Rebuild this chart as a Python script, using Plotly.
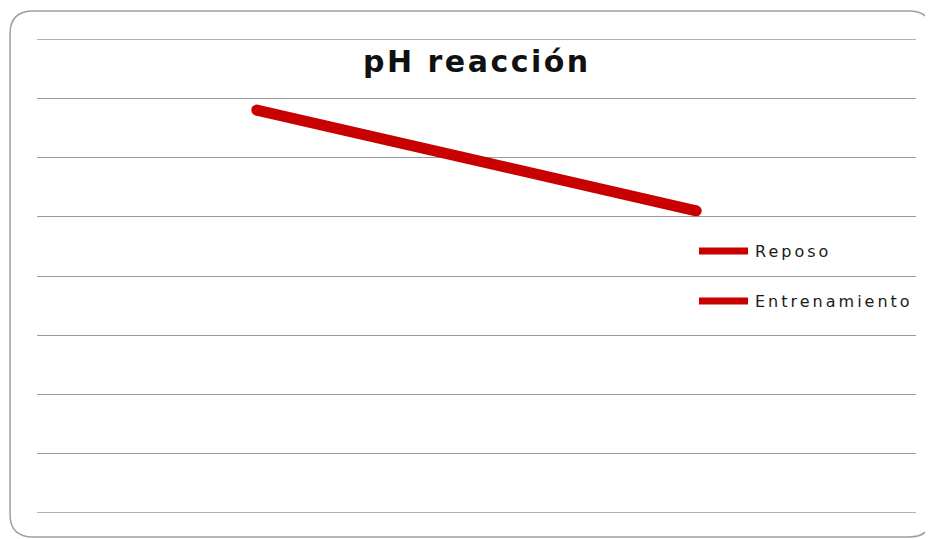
import plotly.graph_objects as go

categories = ["Reposo", "Entrenamiento"]
ph_values = [6.8, 5.1]
title_text = "pH reacción"
y_min, y_max, y_step = 0, 8, 1

RED = "#C80000"
GRID = "#9A9A9A"
OFF = 8  # page body margin
W, H = 933 - OFF, 539 - OFF
# plot area in page pixels: x 37..916, y 39..513
PL, PR, PT, PB = 37, 916, 39, 513
L, R, T, B = PL - OFF, (W + OFF) - PR, PT - OFF, (H + OFF) - PB
PW, PH = W - L - R, H - T - B

def px(x):
    return (x - OFF - L) / PW

def py(y):
    return (H - B - (y - OFF)) / PH

fig = go.Figure()
fig.add_trace(go.Scatter(
    x=categories, y=ph_values, mode="lines+markers",
    line=dict(color=RED, width=11),
    marker=dict(color=RED, size=11),
    showlegend=False, hoverinfo="x+y",
))

# rounded chart border (page pixel coords)
x0, x1, y0, y1, r = 10, 932, 11, 537, 23
path = (f"M {px(x0)},{py(y0 + r)} Q {px(x0)},{py(y0)} {px(x0 + r)},{py(y0)} "
        f"L {px(x1 - r)},{py(y0)} Q {px(x1)},{py(y0)} {px(x1)},{py(y0 + r)} "
        f"L {px(x1)},{py(y1 - r)} Q {px(x1)},{py(y1)} {px(x1 - r)},{py(y1)} "
        f"L {px(x0 + r)},{py(y1)} Q {px(x0)},{py(y1)} {px(x0)},{py(y1 - r)} Z")
shapes = [dict(type="path", xref="paper", yref="paper", path=path,
               line=dict(color="#A0A0A0", width=1.5), layer="below")]

# gridlines at the axis range ends (plotly skips them at the edges)
for yv in (y_min, y_max):
    shapes.append(dict(type="line", xref="paper", yref="y", x0=0, x1=1, y0=yv, y1=yv,
                       line=dict(color=GRID, width=1.4), layer="below"))

annotations = []
for i, name in enumerate(categories):
    ly = 251 + 50 * i
    shapes.append(dict(type="line", xref="paper", yref="paper",
                       x0=px(699), x1=px(748), y0=py(ly), y1=py(ly),
                       line=dict(color=RED, width=7)))
    annotations.append(dict(xref="paper", yref="paper", x=px(753), y=py(ly),
                            xanchor="left", yanchor="middle", showarrow=False,
                            text=f'<span style="letter-spacing:3px">{name}</span>',
                            font=dict(family="DejaVu Sans", size=16, color="#1a1a1a")))

annotations.append(dict(xref="paper", yref="paper", x=px(477), y=py(62),
                        xanchor="center", yanchor="middle", showarrow=False,
                        text=f'<span style="letter-spacing:2.5px"><b>{title_text}</b></span>',
                        font=dict(family="DejaVu Sans", size=30, color="#111")))

fig.update_layout(
    width=W, height=H,
    margin=dict(l=L, r=R, t=T, b=B),
    paper_bgcolor="white", plot_bgcolor="white",
    xaxis=dict(type="category", range=[-0.5, 1.5], showgrid=False,
               showticklabels=False, showline=False, zeroline=False, ticks=""),
    yaxis=dict(range=[y_min, y_max], tick0=y_min, dtick=y_step, showgrid=True,
               gridcolor=GRID, gridwidth=1.4, showticklabels=False,
               zeroline=False, showline=False, ticks=""),
    shapes=shapes, annotations=annotations,
    showlegend=False,
)

fig.write_html("out.html")
